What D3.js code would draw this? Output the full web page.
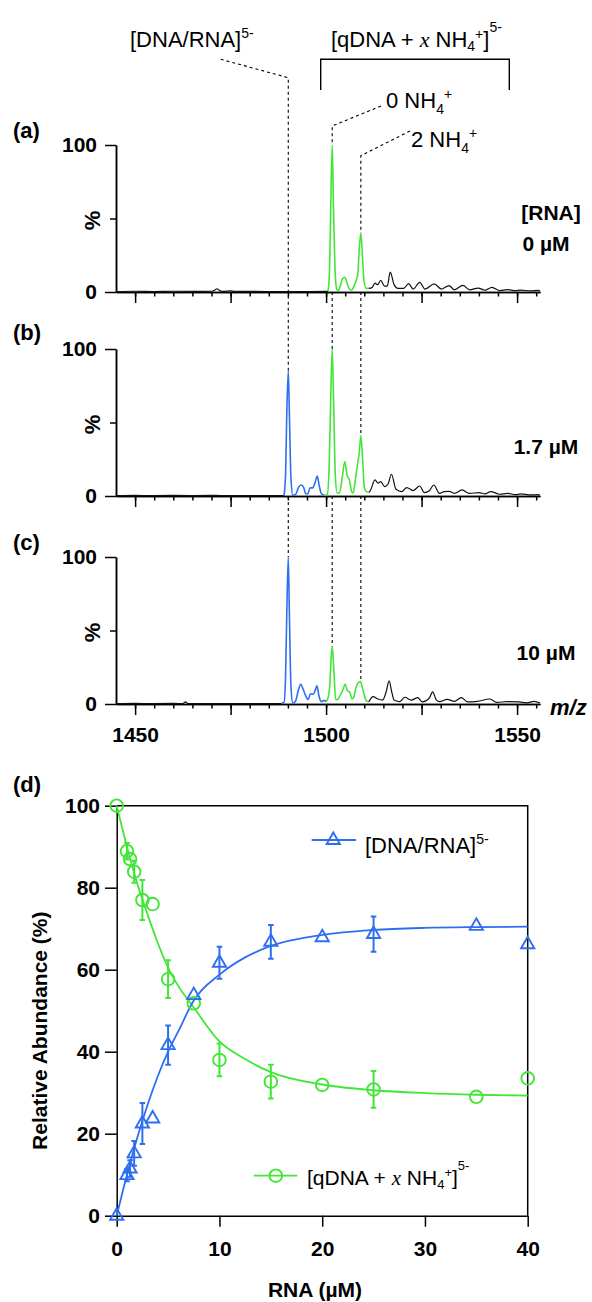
<!DOCTYPE html>
<html>
<head>
<meta charset="utf-8">
<title>DNA/RNA spectra and titration</title>
<style>
	body { margin: 0; background: #fff; }
	svg { font-family: 'Liberation Sans', Arial, Helvetica, sans-serif; }
</style>
</head>
<body>
<svg width="592" height="1302"></svg>
<script src="https://d3js.org/d3.v7.min.js"></script>
<script>

// ---------- data ----------

// m/z axis
const mzDomain = [1445, 1556]
const mzTicks = [1450, 1455, 1460, 1465, 1470, 1475, 1480, 1485, 1490, 1495, 1500,
	1505, 1510, 1515, 1520, 1525, 1530, 1535, 1540, 1545, 1550, 1555]
const mzMajor = [1450, 1475, 1500, 1525, 1550]
const mzLabels = [1450, 1500, 1550]
const pctTicks = [0, 100]

// peak positions marked with dashed lines: [DNA/RNA], 0 NH4+, 2 NH4+
const peakMz = [1490.1, 1501.6, 1509.1]

// concentration labels of the three spectra
const concLabels = ['0 \u00b5M', '1.7 \u00b5M', '10 \u00b5M']
const panelTags = ['(a)', '(b)', '(c)']

// spectrum (a), 0 uM RNA  [m/z, %]
const specA_pre = [[1445,0.3],[1450,0.5],[1455,0.3],[1460,0.5],[1465,0.4],[1470,0.5],[1471,1.5],[1471.5,2.2],[1472,1.2],[1473,0.4],[1475,0.8],[1476,0.4],[1480,0.4],[1485,0.3],[1490,0.3],[1495,0.3],[1500.5,0.4]]
const specA_qdna = [[1500.5,0.4],[1500.9,15],[1501.2,55],[1501.6,100],[1501.9,62],[1502.3,18],[1502.7,3],[1503.1,0.8],[1503.7,4],[1504.3,9],[1504.9,10],[1505.5,6],[1506.1,2],[1506.7,1.2],[1507.3,4],[1507.9,8],[1508.3,12],[1508.7,30],[1509.1,40],[1509.5,25],[1509.9,8],[1510.5,2.5],[1511.2,2.5]]
const specA_post = [[1511.2,2.5],[1512.0,3],[1512.8,6],[1513.5,5],[1514.3,8],[1515.3,4],[1516.0,4],[1516.8,13.5],[1517.8,5],[1518.8,2.5],[1520.3,2.5],[1521.6,5.7],[1522.8,2],[1524.5,6.5],[1525.9,2],[1528.3,5.5],[1530.2,2],[1532.2,4.3],[1533.6,1.5],[1535.8,4.5],[1537.6,1.5],[1539.8,2.7],[1541.6,1.2],[1543.4,3.2],[1545.5,1],[1547.5,1.6],[1549.5,0.9],[1551.0,1.3],[1553.5,0.7],[1555.5,1.1],[1556,0.6]]

// spectrum (b), 1.7 uM RNA
const specB_pre = [[1445,0.3],[1450,0.4],[1455,0.3],[1460,0.4],[1465,0.3],[1470,0.4],[1475,0.3],[1480,0.3],[1485,0.3],[1489.0,0.3]]
const specB_dna = [[1489.0,0.3],[1489.4,15],[1489.7,55],[1490.1,85],[1490.4,55],[1490.8,12],[1491.3,0.5],[1492.0,1],[1492.8,6],[1493.5,7.5],[1494.1,6],[1494.7,1.5],[1495.2,1.5],[1495.8,5.5],[1496.5,5.5],[1497.1,9],[1497.7,13.5],[1498.2,7],[1498.8,1.5],[1499.5,0.5]]
const specB_qdna = [[1499.5,0.5],[1500.3,1],[1500.8,20],[1501.2,65],[1501.6,100],[1502.0,60],[1502.4,15],[1502.9,2],[1503.5,2],[1504.2,12],[1504.9,23.5],[1505.5,14],[1506.1,11],[1506.7,3],[1507.1,2],[1507.7,12],[1508.2,21],[1508.7,30],[1509.1,41],[1509.5,28],[1510.0,6],[1510.6,3],[1511.3,2.5]]
const specB_post = [[1511.3,2.5],[1511.6,3.7],[1512.8,11],[1513.6,8.7],[1514.3,9.8],[1515.3,6.4],[1516.2,8],[1517.1,14.8],[1518.3,4.6],[1519.8,3],[1521.1,5.7],[1522.8,3.7],[1524.5,6.8],[1525.7,2.3],[1527.0,3.5],[1528.2,7.5],[1529.7,1.8],[1530.9,3],[1532.2,3.2],[1533.6,1.8],[1535.6,4.1],[1537.5,1.8],[1540.1,2.3],[1541.6,1.4],[1543.1,3],[1545.4,1.2],[1547.5,1.8],[1549.5,0.9],[1551.0,1.4],[1553.5,0.7],[1555.5,0.9],[1556,0.5]]

// spectrum (c), 10 uM RNA
const specC_pre = [[1445,0.3],[1450,0.4],[1455,0.3],[1460,0.4],[1462.5,0.3],[1463.2,1.5],[1463.8,0.3],[1470,0.3],[1475,0.3],[1480,0.3],[1485,0.3],[1488.2,0.3]]
const specC_dna = [[1488.2,0.3],[1489.0,1],[1489.4,20],[1489.7,60],[1490.1,100],[1490.4,60],[1490.8,12],[1491.3,0.5],[1492.0,2],[1492.8,10],[1493.4,13.4],[1494.0,10],[1494.6,6],[1495.3,3],[1495.9,7],[1496.6,6.5],[1497.1,9],[1497.6,12.3],[1498.1,6],[1498.7,1.6],[1499.5,2.5],[1500.0,1.5]]
const specC_qdna = [[1500.0,1.5],[1500.6,5],[1501.0,14],[1501.3,30],[1501.6,39],[1502.0,25],[1502.5,3.5],[1503.0,3],[1503.5,5],[1504.3,9],[1505.0,13.4],[1505.6,9],[1506.2,8],[1506.8,3.5],[1507.3,5],[1507.8,11],[1508.4,14.5],[1509.0,15.3],[1509.5,11],[1510.0,6],[1510.6,2],[1511.2,1.5]]
const specC_post = [[1511.2,1.5],[1512.3,5],[1513.6,3.4],[1514.8,2.7],[1515.7,8],[1516.5,15.7],[1517.2,8],[1517.8,2.7],[1519.3,1.6],[1520.6,4.6],[1522.3,2.7],[1524.0,4.3],[1525.2,1.4],[1527.0,4],[1527.9,8.2],[1528.8,3],[1529.7,1.6],[1531.7,3.2],[1533.6,1.8],[1535.4,4.3],[1537.1,1.4],[1539.6,1.8],[1542.9,3.4],[1544.6,1.1],[1547.5,1.6],[1550.5,1.4],[1552.5,0.8],[1554.5,1.8],[1556.0,0.7]]

// titration, panel (d)
const rnaConc   = [0, 1, 1.3, 1.7, 2.5, 3.5, 5, 7.5, 10, 15, 20, 25, 35, 40]
const dnaRna    = [0, 9.9, 11.5, 15.2, 22.5, 23.7, 41.6, 53.8, 61.7, 66.8, 67.9, 68.7, 70.7, 66.2]
const dnaRnaErr = [0, 1.5, 2, 3, 5, 0, 4.8, 0, 3.9, 4.1, 0, 4.3, 0, 0]
const qdna      = [100, 88.9, 87, 83.9, 77, 76, 57.7, 51.8, 38.0, 32.7, 31.9, 30.8, 29.0, 33.5]
const qdnaErr   = [0, 2, 0, 2.7, 4.9, 0, 4.6, 0, 4, 4.1, 0, 4.5, 0, 0]

// fitted curves
const fitConc = [0, 1, 2, 3, 4, 5, 6, 7.5, 10, 12.5, 15, 20, 25, 30, 35, 40]
const fitDnaRna = [0, 10, 19, 27, 34, 40, 45, 52.5, 58.8, 63, 65.8, 68.5, 69.7, 70.2, 70.4, 70.5]
const fitQdna = [100, 90, 81, 73.5, 66.5, 60.5, 56, 50.8, 42.5, 38.2, 35, 32, 30.6, 29.9, 29.5, 29.3]

const concTicks = [0, 10, 20, 30, 40]
const abundTicks = [0, 20, 40, 60, 80, 100]

// ---------- drawing ----------

const blue = '#2e6ff0'
const green = '#42e636'
const black = '#111'
const serif = "'Liberation Serif', 'Times New Roman', serif"

let svg = d3.select('svg')

// appends a text made of tspans (for sub/superscripts)
function richText(sel, x, y, parts, size, weight) {
	let t = sel.append('text')
		.attr('x', x)
		.attr('y', y)
		.style('font-size', size + 'px')
		.style('font-weight', weight || 'normal')
		.style('fill', '#000')
	parts.forEach(p => {
		let s = t.append('tspan').text(p.t)
		if (p.dx) s.attr('dx', p.dx)
		if (p.dy) s.attr('dy', p.dy)
		if (p.fs) s.style('font-size', p.fs + 'px')
		if (p.it) s.style('font-style', 'italic').style('font-family', serif)
	})
	return t
}

function qdnaParts(F) {
	let s = Math.round(F * 0.64)
	return [
		{t: '[qDNA + '},
		{t: 'x', it: true},
		{t: ' NH'},
		{t: '4', fs: s, dy: 4},
		{t: '+', fs: s, dy: -12},
		{t: ']', dy: 8},
		{t: '5-', fs: s, dy: -15}
	]
}
function dnaRnaParts(F) {
	let s = Math.round(F * 0.64)
	return [
		{t: '[DNA/RNA]'},
		{t: '5-', fs: s, dy: -9}
	]
}
function nhParts(n, F) {
	let s = Math.round(F * 0.64)
	return [
		{t: n + ' NH'},
		{t: '4', fs: s, dy: 6},
		{t: '+', fs: s, dy: -15}
	]
}

let x = d3.scaleLinear().domain(mzDomain).range([116, 540])

const panelBase = [292, 496, 704]
const panelH = 147
const spectra = [
	[[specA_pre, black], [specA_qdna, green], [specA_post, black]],
	[[specB_pre, black], [specB_dna, blue], [specB_qdna, green], [specB_post, black]],
	[[specC_pre, black], [specC_dna, blue], [specC_qdna, green], [specC_post, black]]
]

let yPanels = panelBase.map(b => d3.scaleLinear().domain([0, 100]).range([b, b - panelH]))

// dashed guide lines (drawn first so the spectra sit on top)
let xd = peakMz.map(m => x(m))
let yA = yPanels[0], yB = yPanels[1], yC = yPanels[2]
let guides = [
	[[220.7, 59.3], [xd[0], 77.7], [xd[0], yB(85)]],
	[[xd[0], yB(0)], [xd[0], yC(100)]],
	[[381, 106], [xd[1], 126], [xd[1], yA(100)]],
	[[xd[1], yA(0)], [xd[1], yB(100)]],
	[[xd[1], yB(0)], [xd[1], yC(39)]],
	[[410, 131], [xd[2], 155.7], [xd[2], yA(40)]],
	[[xd[2], yA(0)], [xd[2], yB(41)]],
	[[xd[2], yB(0)], [xd[2], yC(15.3)]]
]
svg.append('g')
	.selectAll('path')
	.data(guides)
	.join('path')
	.attr('d', d3.line())
	.style('fill', 'none')
	.style('stroke', '#000')
	.style('stroke-width', 1.1)
	.style('stroke-dasharray', '3,3')

// top labels + bracket
richText(svg, 130, 46.5, dnaRnaParts(22), 22)
richText(svg, 331, 46.5, qdnaParts(22), 22)
svg.append('path')
	.attr('d', 'M320.7,90V59.3H509.3V90')
	.style('fill', 'none')
	.style('stroke', '#000')
	.style('stroke-width', 1.4)
richText(svg, 386, 107.5, nhParts(0, 22), 22)
richText(svg, 411, 146.5, nhParts(2, 22), 22)

// the three spectra
spectra.forEach((segs, i) => {
	let y = yPanels[i]
	let base = panelBase[i]
	let g = svg.append('g')

	let xAxisMinor = d3.axisBottom(x).tickValues(mzTicks).tickSize(4.5).tickSizeOuter(0).tickFormat('')
	let xAxisMajor = d3.axisBottom(x).tickValues(mzMajor).tickSize(11).tickSizeOuter(0).tickPadding(12)
		.tickFormat(d => (i == 2 && mzLabels.includes(d)) ? d : '')
	g.append('g').attr('class', 'axis').attr('transform', `translate(0,${base})`).call(xAxisMinor)
	g.append('g').attr('class', 'axis').attr('transform', `translate(0,${base})`).call(xAxisMajor)

	let yAxis = d3.axisLeft(y).tickValues(pctTicks).tickSize(11).tickSizeOuter(0).tickPadding(8)
	let yAxisMid = d3.axisLeft(y).tickValues([50]).tickSize(6).tickSizeOuter(0).tickFormat('')
	g.append('g').attr('class', 'axis').attr('transform', 'translate(116,0)').call(yAxis)
	g.append('g').attr('class', 'axis').attr('transform', 'translate(116,0)').call(yAxisMid)

	g.append('text')
		.attr('transform', `translate(100,${y(50) + 2}) rotate(-90)`)
		.attr('text-anchor', 'middle')
		.style('font-size', '22px')
		.style('font-weight', 'bold')
		.text('%')

	g.append('text')
		.attr('x', 13)
		.attr('y', [138, 340, 550][i])
		.style('font-size', '22px')
		.style('font-weight', 'bold')
		.text(panelTags[i])

	let line = d3.line()
		.x(d => x(d[0]))
		.y(d => y(d[1]))
		.curve(d3.curveMonotoneX)

	g.selectAll('.spec')
		.data(segs)
		.join('path')
		.attr('class', 'spec')
		.attr('d', d => line(d[0]))
		.style('fill', 'none')
		.style('stroke', d => d[1])
		.style('stroke-width', d => d[1] == black ? 1.2 : 1.6)
		.style('stroke-linejoin', 'round')

	g.append('text')
		.attr('x', 546)
		.attr('y', [251, 454, 660][i])
		.attr('text-anchor', 'middle')
		.style('font-size', '21px')
		.style('font-weight', 'bold')
		.text(concLabels[i])
})

svg.append('text')
	.attr('x', 551).attr('y', 220)
	.attr('text-anchor', 'middle')
	.style('font-size', '21px')
	.style('font-weight', 'bold')
	.text('[RNA]')

svg.append('text')
	.attr('x', 550).attr('y', 715)
	.style('font-size', '22px')
	.style('font-weight', 'bold')
	.style('font-style', 'italic')
	.text('m/z')

// ---------- panel (d) ----------
let xD = d3.scaleLinear().domain([0, 40]).range([116.7, 527.7])
let yD = d3.scaleLinear().domain([0, 100]).range([1215.7, 805.7])

let gd = svg.append('g')

gd.append('g').attr('class', 'axis')
	.attr('transform', `translate(0,${yD(0)})`)
	.call(d3.axisBottom(xD).tickValues(concTicks).tickSize(11).tickSizeOuter(0).tickPadding(14))
gd.append('g').attr('class', 'axis')
	.attr('transform', `translate(${xD(0)},0)`)
	.call(d3.axisLeft(yD).tickValues(abundTicks).tickSize(11.7).tickSizeOuter(0).tickPadding(5))

// frame: top and right
gd.append('path')
	.attr('d', `M${xD(0)},${yD(100)}H${xD(40)}V${yD(0)}`)
	.style('fill', 'none')
	.style('stroke', '#000')
	.style('stroke-width', 1.5)

gd.append('text')
	.attr('x', 13).attr('y', 792)
	.style('font-size', '22px')
	.style('font-weight', 'bold')
	.text('(d)')

gd.append('text')
	.attr('transform', `translate(47,${(yD(0) + yD(100)) / 2 + 20}) rotate(-90)`)
	.attr('text-anchor', 'middle')
	.style('font-size', '21px')
	.style('font-weight', 'bold')
	.text('Relative Abundance (%)')

gd.append('text')
	.attr('x', 315).attr('y', 1297)
	.attr('text-anchor', 'middle')
	.style('font-size', '21px')
	.style('font-weight', 'bold')
	.text('RNA (\u00b5M)')

// fitted curves
let fitLine = d3.line().x(d => xD(d[0])).y(d => yD(d[1])).curve(d3.curveMonotoneX)
gd.append('path')
	.attr('d', fitLine(fitConc.map((c, i) => [c, fitQdna[i]])))
	.style('fill', 'none').style('stroke', green).style('stroke-width', 1.8)
gd.append('path')
	.attr('d', fitLine(fitConc.map((c, i) => [c, fitDnaRna[i]])))
	.style('fill', 'none').style('stroke', blue).style('stroke-width', 1.8)

// error bars
function errorBars(vals, errs, color) {
	let rows = rnaConc.map((c, i) => ({c: c, v: vals[i], e: errs[i]})).filter(d => d.e > 0)
	gd.append('g')
		.selectAll('path')
		.data(rows)
		.join('path')
		.attr('d', d => {
			let px = xD(d.c), y1 = yD(d.v + d.e), y2 = yD(d.v - d.e)
			return `M${px},${y1}V${y2}M${px - 2.8},${y1}H${px + 2.8}M${px - 2.8},${y2}H${px + 2.8}`
		})
		.style('fill', 'none')
		.style('stroke', color)
		.style('stroke-width', 2)
}
errorBars(qdna, qdnaErr, green)
errorBars(dnaRna, dnaRnaErr, blue)

const triPath = 'M0,-7.5L6.6,4L-6.6,4Z'

gd.append('g')
	.selectAll('circle')
	.data(rnaConc)
	.join('circle')
	.attr('cx', d => xD(d))
	.attr('cy', (d, i) => yD(qdna[i]))
	.attr('r', 6.3)
	.style('fill', 'none')
	.style('stroke', green)
	.style('stroke-width', 1.9)

gd.append('g')
	.selectAll('path')
	.data(rnaConc)
	.join('path')
	.attr('d', triPath)
	.attr('transform', (d, i) => `translate(${xD(d)},${yD(dnaRna[i])})`)
	.style('fill', 'none')
	.style('stroke', blue)
	.style('stroke-width', 1.9)
	.style('stroke-linejoin', 'miter')

// legend
gd.append('path').attr('d', 'M311.7,840H356').style('stroke', blue).style('stroke-width', 1.8)
gd.append('path').attr('d', triPath).attr('transform', 'translate(333.3,840)')
	.style('fill', 'none').style('stroke', blue).style('stroke-width', 1.9)
richText(gd, 365, 853, dnaRnaParts(22), 22)

gd.append('path').attr('d', 'M253.8,1175.7H297.3').style('stroke', green).style('stroke-width', 1.8)
gd.append('circle').attr('cx', 275.8).attr('cy', 1175.7).attr('r', 6.3)
	.style('fill', 'none').style('stroke', green).style('stroke-width', 1.9)
richText(gd, 307, 1185, qdnaParts(21), 21)

// axis styling shared by all panels
svg.selectAll('.axis path.domain').style('stroke', '#000').style('stroke-width', 1.5)
svg.selectAll('.axis line').style('stroke', '#000').style('stroke-width', 1.5)
svg.selectAll('.axis text')
	.style('font-family', "'Liberation Sans', Arial, Helvetica, sans-serif")
	.style('font-size', '21px')
	.style('font-weight', 'bold')
	.style('fill', '#000')

</script>
</body>
</html>
